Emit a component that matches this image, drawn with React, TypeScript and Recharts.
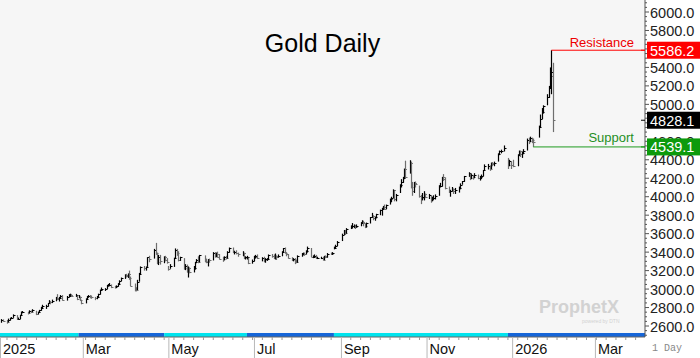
import React from 'react';
import { ComposedChart, Bar, XAxis, YAxis, ReferenceLine, ReferenceArea, CartesianGrid } from 'recharts';

// trading calendar (CME metals sessions)
const firstSession = '2025-01-02';
const lastSession = '2026-01-30';
const holidays = [
  '2025-01-20', '2025-02-17', '2025-04-18', '2025-05-26', '2025-06-19', '2025-07-04',
  '2025-09-01', '2025-11-27', '2025-12-25', '2026-01-01', '2026-01-19',
];

// front-month gold futures, daily
const closes = [
  2669, 2654, 2645, 2665, 2686, 2690, 2717, 2677, 2680, 2717, 2748, 2748, 2742, 2758, 2752, 2768, 2732, 2750, 2768, 2800, 2812,
  2815, 2845, 2865, 2855, 2870, 2905, 2895, 2905, 2925, 2880, 2915, 2930, 2935, 2920, 2935, 2895, 2918, 2880, 2850,
  2895, 2920, 2925, 2915, 2912, 2900, 2915, 2945, 2990, 3001, 3005, 3040, 3045, 3045, 3022, 3020, 3030, 3060, 3090, 3115, 3150,
  3145, 3166, 3120, 3035, 2990, 2985, 3080, 3160, 3240, 3225, 3240, 3345, 3330, 3425, 3395, 3290, 3350, 3300, 3345, 3320, 3290,
  3215, 3245, 3335, 3420, 3390, 3310, 3345, 3230, 3250, 3190, 3225, 3185, 3230, 3290, 3315, 3295, 3365, 3300, 3290, 3320, 3315,
  3395, 3355, 3375, 3350, 3330, 3325, 3345, 3340, 3400, 3445, 3400, 3405, 3390, 3380, 3395, 3335, 3345, 3345, 3285, 3305,
  3350, 3360, 3340, 3340, 3310, 3325, 3325, 3365, 3360, 3350, 3360, 3345, 3360, 3405, 3440, 3395, 3375, 3335, 3315, 3325, 3300, 3295,
  3360, 3380, 3385, 3380, 3410, 3440, 3350, 3350, 3360, 3335, 3340, 3340, 3320, 3355, 3345, 3385, 3380, 3395, 3450, 3470, 3515,
  3590, 3635, 3610, 3655, 3680, 3680, 3690, 3670, 3685, 3720, 3725, 3715, 3680, 3710, 3775, 3790, 3765, 3775, 3810, 3855, 3870,
  3890, 3870, 3910, 3975, 3985, 4070, 3975, 4015, 4130, 4160, 4200, 4300, 4215, 4360, 4110, 4065, 4145, 4135, 4010, 3985, 4000, 4030, 4000,
  4015, 3960, 3990, 3990, 4010, 4120, 4120, 4210, 4195, 4095, 4060, 4065, 4080, 4060, 4075, 4095, 4130, 4165, 4220,
  4255, 4200, 4230, 4210, 4240, 4205, 4210, 4225, 4285, 4330, 4335, 4305, 4365, 4355, 4370, 4465, 4490, 4500, 4530, 4345, 4385, 4340,
  4330, 4450, 4490, 4460, 4475, 4500, 4610, 4600, 4635, 4615, 4595, 4760, 4840, 4915, 4980, 5085, 5180, 5310, 5355, 4828.1,
];
const highs = [
  2675, 2672, 2665, 2680, 2690, 2697, 2726, 2718, 2692, 2722, 2757, 2762, 2755, 2770, 2768, 2782, 2765, 2756, 2775, 2808, 2830,
  2830, 2850, 2880, 2870, 2886, 2915, 2945, 2915, 2935, 2935, 2925, 2945, 2950, 2945, 2948, 2930, 2935, 2920, 2885,
  2900, 2925, 2935, 2935, 2930, 2915, 2925, 2950, 2995, 3017, 3010, 3045, 3055, 3065, 3050, 3035, 3040, 3065, 3095, 3125, 3160,
  3165, 3170, 3200, 3135, 3060, 3020, 3100, 3175, 3245, 3250, 3245, 3345, 3360, 3435, 3500, 3395, 3370, 3370, 3355, 3360, 3335,
  3250, 3270, 3340, 3440, 3435, 3410, 3350, 3335, 3270, 3265, 3245, 3235, 3250, 3295, 3325, 3355, 3370, 3365, 3330, 3325, 3330,
  3400, 3400, 3395, 3405, 3380, 3350, 3355, 3360, 3410, 3450, 3450, 3415, 3420, 3395, 3410, 3395, 3355, 3360, 3340, 3320,
  3360, 3370, 3375, 3345, 3350, 3335, 3335, 3375, 3380, 3375, 3385, 3365, 3375, 3410, 3445, 3450, 3400, 3380, 3345, 3335, 3335, 3320,
  3365, 3390, 3395, 3395, 3420, 3460, 3445, 3365, 3375, 3370, 3350, 3350, 3350, 3360, 3365, 3390, 3395, 3400, 3460, 3480, 3520,
  3600, 3640, 3640, 3660, 3690, 3715, 3700, 3695, 3700, 3725, 3745, 3740, 3710, 3720, 3780, 3825, 3800, 3785, 3815, 3860, 3880,
  3900, 3915, 3915, 3980, 4000, 4080, 4070, 4030, 4135, 4190, 4215, 4305, 4390, 4395, 4380, 4160, 4160, 4165, 4120, 4020, 4040, 4060, 4035,
  4030, 4010, 4000, 4015, 4025, 4125, 4150, 4215, 4245, 4210, 4110, 4075, 4105, 4090, 4095, 4110, 4145, 4170, 4225,
  4265, 4250, 4245, 4235, 4255, 4240, 4225, 4240, 4290, 4350, 4355, 4340, 4370, 4375, 4380, 4470, 4500, 4510, 4555, 4420, 4400, 4380,
  4400, 4460, 4500, 4500, 4490, 4515, 4630, 4640, 4650, 4640, 4630, 4770, 4890, 4960, 4990, 5110, 5200, 5400, 5586.2, 5450,
];
const lows = [
  2635, 2645, 2625, 2640, 2660, 2675, 2688, 2665, 2668, 2675, 2714, 2738, 2725, 2738, 2740, 2750, 2718, 2725, 2745, 2765, 2795,
  2785, 2810, 2840, 2835, 2848, 2868, 2880, 2865, 2898, 2875, 2875, 2910, 2920, 2915, 2915, 2880, 2900, 2870, 2835,
  2845, 2890, 2905, 2900, 2895, 2880, 2890, 2905, 2940, 2985, 2980, 3000, 3025, 3030, 3010, 3005, 3010, 3025, 3055, 3085, 3110,
  3125, 3120, 3100, 3030, 2975, 2975, 2990, 3080, 3160, 3200, 3200, 3240, 3290, 3330, 3370, 3270, 3260, 3265, 3280, 3300, 3275,
  3200, 3220, 3240, 3330, 3360, 3300, 3305, 3210, 3205, 3180, 3125, 3170, 3180, 3210, 3280, 3280, 3290, 3290, 3280, 3245, 3285,
  3310, 3340, 3345, 3340, 3320, 3295, 3310, 3320, 3330, 3395, 3390, 3375, 3375, 3350, 3355, 3325, 3320, 3320, 3270, 3275,
  3300, 3330, 3325, 3300, 3290, 3285, 3305, 3320, 3340, 3325, 3320, 3315, 3340, 3355, 3395, 3385, 3355, 3330, 3305, 3300, 3270, 3280,
  3285, 3350, 3365, 3360, 3375, 3395, 3345, 3335, 3340, 3325, 3325, 3325, 3310, 3315, 3335, 3340, 3370, 3370, 3430, 3440, 3465,
  3520, 3585, 3585, 3600, 3650, 3655, 3660, 3650, 3665, 3680, 3705, 3680, 3660, 3665, 3710, 3770, 3745, 3740, 3765, 3800, 3795,
  3860, 3860, 3865, 3915, 3940, 3985, 3950, 3950, 4040, 4100, 4150, 4190, 4200, 4250, 4090, 4010, 4040, 4100, 3990, 3920, 3960, 3960, 3985,
  3975, 3935, 3950, 3965, 3970, 4010, 4100, 4110, 4170, 4080, 4040, 4000, 4055, 4030, 4030, 4045, 4080, 4130, 4160,
  4215, 4180, 4190, 4185, 4200, 4190, 4175, 4190, 4220, 4280, 4295, 4280, 4300, 4330, 4330, 4380, 4450, 4470, 4490, 4300, 4330, 4300,
  4320, 4330, 4440, 4430, 4420, 4460, 4500, 4570, 4590, 4580, 4539.1, 4640, 4750, 4840, 4900, 4990, 5070, 5170, 5110, 4700,
];

// contract roll dates (front month switches) -> colored strip at the bottom
const rollDates = ['2025-02-26', '2025-04-28', '2025-06-26', '2025-08-27', '2025-12-29'];

const monthTickDates = ['2025-01-01', '2025-03-01', '2025-05-01', '2025-07-01', '2025-09-01', '2025-11-01', '2026-01-01', '2026-03-01'];
const monthTickLabels = ['2025', 'Mar', 'May', 'Jul', 'Sep', 'Nov', '2026', 'Mar'];
const priceTicks = [2600, 2800, 3000, 3200, 3400, 3600, 3800, 4000, 4200, 4400, 4600, 4800, 5000, 5200, 5400, 5600, 5800, 6000];

const resistance = 5586.2;
const support = 4539.1;
const lastPrice = closes[closes.length - 1];

// layout
const W = 700;
const H = 358;
const X_MAX = 459.7;
const Y_MIN = 2481;
const Y_MAX = 6130;
const STRIP_TOP = 2524;
const FONT = '"Liberation Sans", Arial, sans-serif';

const DAY_MS = 86400000;
const ORIGIN = Date.UTC(2025, 0, 1);
const dayOf = (iso: string) => {
  const [y, m, d] = iso.split('-').map(Number);
  return Math.round((Date.UTC(y, m - 1, d) - ORIGIN) / DAY_MS);
};

const sessions: number[] = [];
{
  const closed = new Set(holidays.map(dayOf));
  for (let t = dayOf(firstSession); t <= dayOf(lastSession); t++) {
    const wd = new Date(ORIGIN + t * DAY_MS).getUTCDay();
    if (wd === 0 || wd === 6 || closed.has(t)) continue;
    sessions.push(t);
  }
}

const data = sessions.map((day, i) => ({
  day,
  high: highs[i],
  low: lows[i],
  close: closes[i],
  range: [lows[i], highs[i]],
  up: i === 0 || closes[i] >= closes[i - 1],
}));

const stripEdges = [0, ...rollDates.map(dayOf), X_MAX];
const stripColors = ['#00e4ee', '#1565d8'];

const monthDays = monthTickDates.map(dayOf);
const weekTicks: number[] = [];
for (let t = 5; t < X_MAX; t += 7) weekTicks.push(t);
const xTicks = [...weekTicks.filter(t => !monthDays.includes(t)), ...monthDays];

const minorPrice: number[] = [];
for (let v = 2500; v <= 6100; v += 50) if (!priceTicks.includes(v)) minorPrice.push(v);
const yTicks = [...minorPrice, ...priceTicks, lastPrice, support, resistance];

const markerFill: Record<string, string> = {
  [String(resistance)]: '#ff0000',
  [String(lastPrice)]: '#000000',
  [String(support)]: '#0c9a0c',
};

const OhlcBar = (props: any) => {
  const { x, y, width, height, payload } = props;
  if (x == null || !payload) return null;
  const cx = Math.round(x + width / 2) + 0.5;
  const top = Math.min(y, y + height);
  const h = Math.max(Math.abs(height), 1);
  const span = payload.high - payload.low;
  const yc = span > 0 ? top + ((payload.high - payload.close) / span) * h : top;
  const color = payload.up ? '#000' : '#6e6e6e';
  return (
    <g>
      <line x1={cx} x2={cx} y1={top} y2={top + h} stroke={color} strokeWidth={1.2} />
      <line x1={cx} x2={cx + 2} y1={Math.round(yc) + 0.5} y2={Math.round(yc) + 0.5} stroke={color} strokeWidth={1} />
    </g>
  );
};

const PriceTick = (props: any) => {
  const { x, y, payload } = props;
  const v = payload.value;
  const fill = markerFill[String(v)];
  if (fill) {
    return (
      <g>
        <line x1={x - 4} x2={x} y1={y} y2={y} stroke={fill} />
        <rect x={x + 2} y={y - 8.5} width={56} height={17} fill={fill} />
        <text x={x + 5} y={y + 5.5} fill="#fff" fontSize={14.5} fontFamily={FONT}>{v.toFixed(1)}</text>
      </g>
    );
  }
  const major = priceTicks.includes(v);
  return (
    <g>
      <line x1={x} x2={x + (major ? 4 : 2)} y1={y} y2={y} stroke="#555" />
      {major && (
        <text x={x + 5} y={y + 5.5} fill="#222" fontSize={14.5} fontFamily={FONT}>{v.toFixed(1)}</text>
      )}
    </g>
  );
};

const DateTick = (props: any) => {
  const { x, y, payload } = props;
  const idx = monthDays.indexOf(payload.value);
  if (idx < 0) {
    return <line x1={x} x2={x} y1={y} y2={y + 3} stroke="#999" />;
  }
  return (
    <g>
      <line x1={x + 0.5} x2={x + 0.5} y1={y} y2={H} stroke="#b8b8b8" />
      <text x={x + 3} y={y + 17} fill="#111" fontSize={14.5} fontFamily={FONT}>{monthTickLabels[idx]}</text>
    </g>
  );
};

const lineLabel = (text: string, color: string, dy: number) => (props: any) => {
  const vb = props.viewBox || {};
  return (
    <text x={vb.x + vb.width - 11} y={vb.y + dy} textAnchor="end" fill={color} fontSize={13} fontFamily={FONT}>
      {text}
    </text>
  );
};

export default function App() {
  const peakDay = data[highs.indexOf(resistance)].day;
  const supportDay = data[lows.indexOf(support)].day;
  return (
    <div style={{ position: 'absolute', left: 0, top: 0, width: W, height: H, background: '#fff', overflow: 'hidden' }}>
      <ComposedChart width={W} height={H} data={data} margin={{ top: 0, right: 0, bottom: 0, left: 0 }}>
        <CartesianGrid horizontal={false} vertical={false} fill="#f6f6f6" stroke="none" />
        <XAxis
          dataKey="day"
          type="number"
          domain={[0, X_MAX]}
          ticks={xTicks}
          interval={0}
          tick={<DateTick />}
          tickLine={false}
          tickSize={0}
          tickMargin={0}
          axisLine={{ stroke: '#666' }}
          height={21}
          allowDataOverflow
        />
        <YAxis
          orientation="right"
          type="number"
          domain={[Y_MIN, Y_MAX]}
          ticks={yTicks}
          interval={0}
          tick={<PriceTick />}
          tickLine={false}
          tickSize={0}
          tickMargin={0}
          axisLine={{ stroke: '#555' }}
          width={55}
          allowDataOverflow
        />
        {stripEdges.slice(0, -1).map((from, i) => (
          <ReferenceArea
            key={from}
            x1={from}
            x2={stripEdges[i + 1]}
            y1={Y_MIN}
            y2={STRIP_TOP}
            fill={stripColors[i % 2]}
            fillOpacity={1}
            stroke="none"
            ifOverflow="visible"
          />
        ))}
        <Bar dataKey="range" shape={<OhlcBar />} barSize={2} isAnimationActive={false} />
        <ReferenceLine
          segment={[{ x: peakDay, y: resistance }, { x: X_MAX, y: resistance }]}
          stroke="#ff0000"
          strokeWidth={1}
          ifOverflow="visible"
          label={lineLabel('Resistance', '#ee0000', -3)}
        />
        <ReferenceLine
          segment={[{ x: supportDay, y: support }, { x: X_MAX, y: support }]}
          stroke="#1f9a1f"
          strokeWidth={1}
          ifOverflow="visible"
          label={lineLabel('Support', '#1f8f1f', -5)}
        />
      </ComposedChart>
      <div style={{ position: 'absolute', left: 200, width: 245, top: 28, textAlign: 'center', fontFamily: FONT, fontSize: 25, color: '#000', lineHeight: '30px' }}>
        Gold Daily
      </div>
      <div style={{ position: 'absolute', left: 539, top: 298, fontFamily: FONT, fontSize: 18, fontWeight: 700, color: '#d2d2d2', lineHeight: '18px' }}>
        ProphetX
      </div>
      <div style={{ position: 'absolute', left: 582, top: 318, fontFamily: FONT, fontSize: 5, color: '#d2d2d2', lineHeight: '6px' }}>
        powered by DTN
      </div>
      <div style={{ position: 'absolute', left: 652, top: 343, fontFamily: '"Liberation Mono", monospace', fontSize: 10, color: '#888', lineHeight: '12px' }}>
        1 Day
      </div>
    </div>
  );
}
